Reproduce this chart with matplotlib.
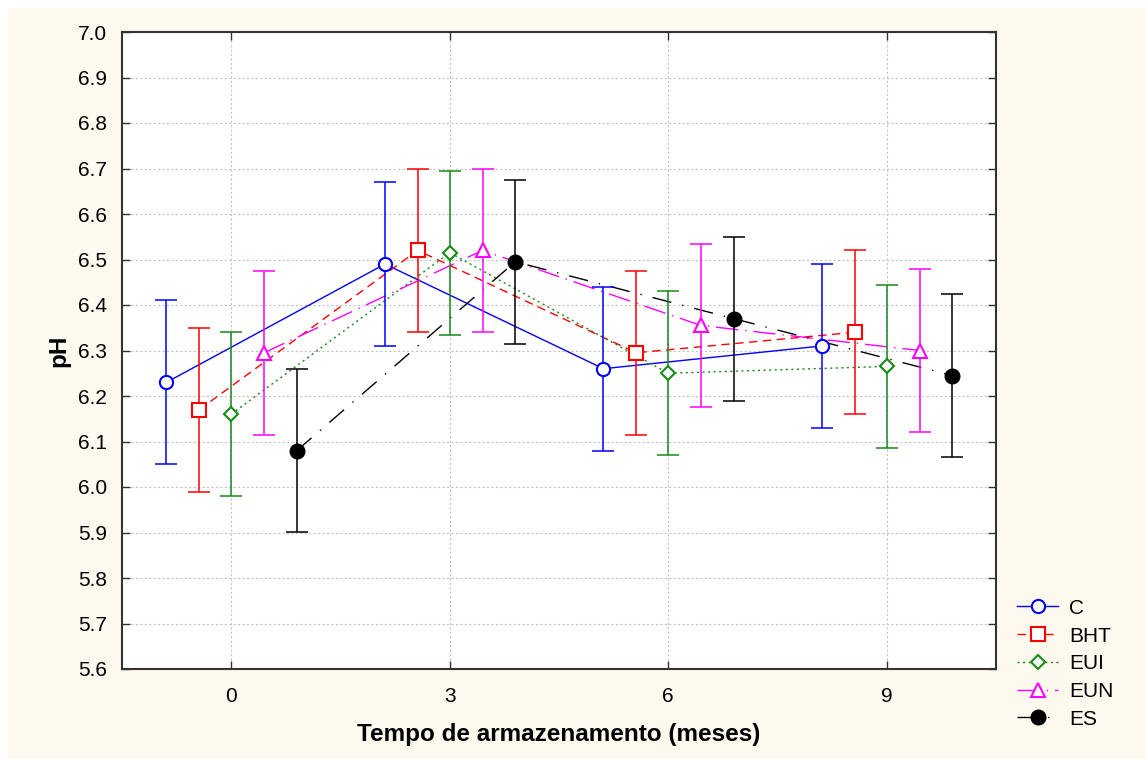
import matplotlib.pyplot as plt
from matplotlib.patches import Rectangle
from matplotlib.lines import Line2D

# storage time (months) and pH means per treatment
months = [0, 3, 6, 9]
series_names = ['C', 'BHT', 'EUI', 'EUN', 'ES']
ph_c = [6.23, 6.49, 6.26, 6.31]
ph_bht = [6.17, 6.52, 6.295, 6.34]
ph_eui = [6.16, 6.515, 6.25, 6.265]
ph_eun = [6.295, 6.52, 6.355, 6.30]
ph_es = [6.08, 6.495, 6.37, 6.245]
# error bar half-widths (confidence interval)
err_c = [0.18, 0.18, 0.18, 0.18]
err_bht = [0.18, 0.18, 0.18, 0.18]
err_eui = [0.18, 0.18, 0.18, 0.18]
err_eun = [0.18, 0.18, 0.18, 0.18]
err_es = [0.18, 0.18, 0.18, 0.18]

plt.rcParams['font.family'] = ['Liberation Sans', 'DejaVu Sans']

fig = plt.figure(figsize=(11.46, 7.59), dpi=100, facecolor='white')
# cream panel behind everything (small white strip top and left)
fig.patches.append(Rectangle((8 / 1146, 0), 1, 1 - 8 / 759, transform=fig.transFigure,
                             facecolor='#FDF9EE', edgecolor='none', zorder=-10))

ax = fig.add_axes([122 / 1146, 1 - 669 / 759, (996 - 122) / 1146, (669 - 32) / 759])
ax.set_facecolor('white')

styles = [
    # offset, color, linestyle, marker, markersize, facecolor
    (-0.89, '#0000FF', '-', 'o', 9.5, 'white'),
    (-0.44, '#FF0000', (0, (6, 4)), 's', 9.5, 'white'),
    (0.0, '#168A16', (0, (1.5, 2.5)), 'D', 7.5, 'white'),
    (0.45, '#FF00FF', (0, (16, 5, 1, 5)), '^', 9.5, 'white'),
    (0.90, '#000000', (0, (14, 8, 1, 8)), 'o', 10, 'black'),
]
values = [ph_c, ph_bht, ph_eui, ph_eun, ph_es]
errors = [err_c, err_bht, err_eui, err_eun, err_es]

handles = []
for name, vals, errs, (off, col, ls, mk, ms, fc) in zip(series_names, values, errors, styles):
    xs = [m + off for m in months]
    ax.errorbar(xs, vals, yerr=errs, fmt='none', ecolor=col, elinewidth=1.1,
                capsize=8, capthick=1.1, zorder=3)
    ax.plot(xs, vals, color=col, linestyle=ls, linewidth=1, zorder=2)
    ax.plot(xs, vals, linestyle='none', marker=mk, markersize=ms,
            markerfacecolor=fc, markeredgecolor=col, markeredgewidth=1.5, zorder=4)
    handles.append(Line2D([], [], color=col, linestyle=ls, linewidth=1, marker=mk,
                          markersize=ms, markerfacecolor=fc, markeredgecolor=col,
                          markeredgewidth=1.5, label=name))

ax.set_xlim(-1.5, 10.5)
ax.set_ylim(5.6, 7.0)
ax.set_xticks(months)
ax.set_yticks([5.6 + 0.1 * i for i in range(15)])
ax.set_yticklabels(['%.1f' % (5.6 + 0.1 * i) for i in range(15)])
ax.tick_params(direction='in', length=6, width=1, labelsize=15, top=True, right=True,
               colors='#333333', labelcolor='black')
ax.tick_params(axis='y', pad=11)
ax.tick_params(axis='x', pad=13)
ax.grid(True, color='#C4C4C4', linestyle=(0, (2, 2)), linewidth=0.8)
ax.set_axisbelow(True)
for sp in ax.spines.values():
    sp.set_color('#333333')
    sp.set_linewidth(1.5)

ax.set_xlabel('Tempo de armazenamento (meses)', fontsize=17.5, fontweight='bold', labelpad=12)
ax.set_ylabel('pH', fontsize=17.5, fontweight='bold', labelpad=5)

fig.legend(handles=handles, loc='upper left', bbox_to_anchor=(998 / 1146, 1 - 580 / 759),
           frameon=False, fontsize=15, handlelength=2.0, handletextpad=0.5, labelspacing=0.42)

fig.savefig('out.png', dpi=100, facecolor=fig.get_facecolor())
